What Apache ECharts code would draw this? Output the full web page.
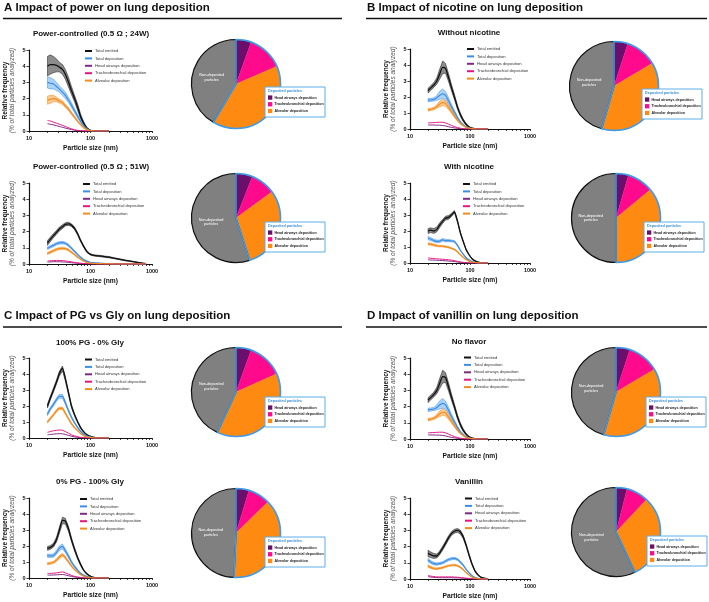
<!DOCTYPE html>
<html>
<head>
<meta charset="utf-8">
<script src="https://cdn.jsdelivr.net/npm/echarts@6/dist/echarts.min.js"></script>
<style>
  html, body { margin: 0; background: #fff; }
  #chart { width: 709px; height: 602px; }
</style>
</head>
<body>
<div id="chart"></div>
<script>
// particle sizes (nm) where the curves were read
const sizes = [20, 22, 25, 28, 31, 35, 39, 44, 49, 55, 62, 69, 77, 86, 97, 108, 121, 135, 150, 170, 200]
const sizesWide = [20, 22, 25, 28, 31, 35, 39, 44, 49, 55, 62, 69, 77, 86, 97, 108, 121, 135, 150, 170, 200, 240, 290, 350, 420, 500, 600, 700, 800]

const xTicks = [10, 20, 30, 40, 50, 60, 70, 80, 90, 100, 200, 300, 400, 500, 600, 700, 800, 900, 1000]
const xLabels = [10, 100, 1000]

const seriesNames = ['Total emitted', 'Total deposition', 'Head airways deposition', 'Tracheobronchial deposition', 'Alveolar deposition']
const pieNames = ['Head airways deposition', 'Tracheobronchial deposition', 'Alveolar deposition', 'Non-deposited particles']

// A1 power 24W
const a1Emitted = [4.0, 4.1, 4.1, 4.05, 3.95, 3.8, 3.5, 3.0, 2.5, 2.0, 1.45, 0.9, 0.5, 0.2, 0.06, 0.01, 0, 0, 0, 0, 0]
const a1EmittedSem = [0.6, 0.6, 0.5, 0.4, 0.3, 0.3, 0.3, 0.3, 0.25, 0.2, 0.2, 0.15, 0.1, 0.05, 0.02, 0, 0, 0, 0, 0, 0]
const a1Deposition = [3.0, 2.95, 2.9, 2.75, 2.6, 2.4, 2.2, 1.9, 1.6, 1.25, 0.9, 0.6, 0.35, 0.15, 0.05, 0.01, 0, 0, 0, 0, 0]
const a1DepositionSem = [0.35, 0.35, 0.3, 0.25, 0.2, 0.2, 0.2, 0.15, 0.15, 0.12, 0.1, 0.08, 0.05, 0.03, 0.01, 0, 0, 0, 0, 0, 0]
const a1Head = [0.45, 0.42, 0.38, 0.33, 0.28, 0.23, 0.18, 0.13, 0.09, 0.05, 0.02, 0.01, 0, 0, 0, 0, 0, 0, 0, 0, 0]
const a1Tracheo = [0.65, 0.62, 0.55, 0.48, 0.42, 0.35, 0.28, 0.2, 0.14, 0.08, 0.04, 0.02, 0.01, 0, 0, 0, 0, 0, 0, 0, 0]
const a1Alveolar = [1.9, 1.95, 2.0, 1.95, 1.85, 1.75, 1.55, 1.35, 1.1, 0.85, 0.6, 0.4, 0.22, 0.1, 0.03, 0.01, 0, 0, 0, 0, 0]
const a1AlveolarSem = [0.25, 0.25, 0.2, 0.15, 0.12, 0.12, 0.1, 0.1, 0.08, 0.07, 0.05, 0.04, 0.03, 0.02, 0.01, 0, 0, 0, 0, 0, 0]
const a1Pie = [5.5, 13, 40, 41.5]

// A2 power 51W
const a2Emitted = [1.3, 1.5, 1.75, 1.95, 2.15, 2.3, 2.45, 2.48, 2.4, 2.2, 1.85, 1.45, 1.1, 0.8, 0.62, 0.55, 0.52, 0.5, 0.48, 0.45, 0.42, 0.36, 0.3, 0.24, 0.19, 0.14, 0.09, 0.05, 0.02]
const a2EmittedSem = [0.15, 0.14, 0.13, 0.12, 0.12, 0.12, 0.1, 0.1, 0.08, 0.08, 0.07, 0.06, 0.05, 0.05, 0.04, 0.04, 0.04, 0.04, 0.04, 0.04, 0.04, 0.03, 0.03, 0.03, 0.02, 0.02, 0.02, 0.01, 0.01]
const a2Deposition = [0.97, 1.05, 1.15, 1.25, 1.3, 1.32, 1.28, 1.15, 0.98, 0.78, 0.58, 0.42, 0.28, 0.18, 0.11, 0.08, 0.06, 0.05, 0.04, 0.03, 0.03, 0.02, 0.01, 0.01, 0, 0, 0, 0, 0]
const a2DepositionSem = [0.08, 0.08, 0.08, 0.08, 0.08, 0.08, 0.07, 0.07, 0.06, 0.05, 0.04, 0.03, 0.02, 0.02, 0.01, 0.01, 0.01, 0.01, 0.01, 0.01, 0, 0, 0, 0, 0, 0, 0, 0, 0]
const a2Head = [0.12, 0.13, 0.14, 0.14, 0.14, 0.13, 0.12, 0.1, 0.08, 0.06, 0.04, 0.03, 0.02, 0.01, 0, 0, 0, 0, 0, 0, 0, 0, 0, 0, 0, 0, 0, 0, 0]
const a2Tracheo = [0.18, 0.2, 0.21, 0.22, 0.22, 0.21, 0.19, 0.16, 0.13, 0.1, 0.07, 0.05, 0.03, 0.02, 0.01, 0, 0, 0, 0, 0, 0, 0, 0, 0, 0, 0, 0, 0, 0]
const a2Alveolar = [0.65, 0.72, 0.82, 0.9, 0.95, 0.97, 0.95, 0.86, 0.73, 0.58, 0.42, 0.3, 0.19, 0.11, 0.06, 0.04, 0.03, 0.02, 0.02, 0.01, 0.01, 0, 0, 0, 0, 0, 0, 0, 0]
const a2AlveolarSem = [0.07, 0.07, 0.07, 0.07, 0.07, 0.07, 0.06, 0.06, 0.05, 0.04, 0.03, 0.02, 0.02, 0.01, 0.01, 0, 0, 0, 0, 0, 0, 0, 0, 0, 0, 0, 0, 0, 0]
const a2Pie = [6, 9, 30, 55]

// B1 without nicotine (same control as D1 no flavor)
const b1Emitted = [2.4, 2.55, 2.75, 3.0, 3.4, 3.85, 3.8, 3.2, 2.6, 2.0, 1.35, 0.9, 0.55, 0.3, 0.13, 0.05, 0.02, 0, 0, 0, 0]
const b1EmittedSem = [0.15, 0.15, 0.15, 0.2, 0.3, 0.4, 0.3, 0.25, 0.2, 0.15, 0.12, 0.1, 0.08, 0.05, 0.03, 0.02, 0.01, 0, 0, 0, 0]
const b1Deposition = [1.8, 1.82, 1.85, 1.95, 2.1, 2.2, 2.1, 1.75, 1.4, 1.05, 0.7, 0.45, 0.27, 0.14, 0.06, 0.02, 0, 0, 0, 0, 0]
const b1DepositionSem = [0.1, 0.1, 0.1, 0.15, 0.25, 0.3, 0.25, 0.2, 0.15, 0.12, 0.08, 0.05, 0.04, 0.02, 0.01, 0, 0, 0, 0, 0, 0]
const b1Head = [0.25, 0.25, 0.25, 0.24, 0.24, 0.22, 0.19, 0.14, 0.1, 0.07, 0.04, 0.02, 0.01, 0, 0, 0, 0, 0, 0, 0, 0]
const b1Tracheo = [0.38, 0.39, 0.4, 0.41, 0.42, 0.42, 0.38, 0.3, 0.22, 0.15, 0.09, 0.05, 0.02, 0.01, 0, 0, 0, 0, 0, 0, 0]
const b1Alveolar = [1.2, 1.22, 1.28, 1.4, 1.55, 1.65, 1.6, 1.35, 1.1, 0.82, 0.55, 0.36, 0.22, 0.11, 0.05, 0.02, 0, 0, 0, 0, 0]
const b1AlveolarSem = [0.08, 0.08, 0.08, 0.1, 0.18, 0.2, 0.18, 0.15, 0.12, 0.1, 0.07, 0.05, 0.03, 0.02, 0.01, 0, 0, 0, 0, 0, 0]
const b1Pie = [5, 11.5, 38, 45.5]

// B2 with nicotine
const b2Emitted = [2.0, 2.05, 2.0, 2.1, 2.35, 2.6, 2.8, 2.85, 3.0, 3.2, 2.6, 1.9, 1.35, 0.85, 0.5, 0.27, 0.13, 0.06, 0.03, 0.01, 0]
const b2EmittedSem = [0.15, 0.15, 0.15, 0.15, 0.15, 0.12, 0.12, 0.12, 0.1, 0.08, 0.06, 0.05, 0.04, 0.03, 0.02, 0.01, 0.01, 0, 0, 0, 0]
const b2Deposition = [1.55, 1.5, 1.4, 1.35, 1.35, 1.45, 1.4, 1.4, 1.38, 1.35, 1.1, 0.8, 0.55, 0.33, 0.18, 0.09, 0.04, 0.02, 0.01, 0, 0]
const b2DepositionSem = [0.1, 0.1, 0.08, 0.08, 0.08, 0.08, 0.08, 0.07, 0.06, 0.05, 0.04, 0.03, 0.02, 0.02, 0.01, 0, 0, 0, 0, 0, 0]
const b2Head = [0.2, 0.19, 0.18, 0.17, 0.16, 0.15, 0.14, 0.12, 0.11, 0.09, 0.06, 0.04, 0.02, 0.01, 0, 0, 0, 0, 0, 0, 0]
const b2Tracheo = [0.32, 0.3, 0.28, 0.26, 0.25, 0.23, 0.22, 0.2, 0.18, 0.15, 0.1, 0.07, 0.04, 0.02, 0.01, 0, 0, 0, 0, 0, 0]
const b2Alveolar = [1.2, 1.18, 1.12, 1.08, 1.06, 1.05, 1.02, 0.98, 0.92, 0.85, 0.7, 0.52, 0.36, 0.22, 0.12, 0.06, 0.03, 0.01, 0, 0, 0]
const b2AlveolarSem = [0.07, 0.07, 0.06, 0.06, 0.05, 0.05, 0.05, 0.05, 0.04, 0.04, 0.03, 0.03, 0.02, 0.01, 0.01, 0, 0, 0, 0, 0, 0]
const b2Pie = [4.5, 9.5, 36, 50]

// C1 100% PG
const c1Emitted = [2.0, 2.45, 3.0, 3.5, 4.0, 4.35, 3.7, 2.8, 2.0, 1.45, 1.0, 0.65, 0.4, 0.22, 0.12, 0.06, 0.03, 0.01, 0, 0, 0]
const c1EmittedSem = [0.12, 0.12, 0.12, 0.12, 0.15, 0.15, 0.12, 0.1, 0.08, 0.06, 0.05, 0.04, 0.03, 0.02, 0.01, 0.01, 0, 0, 0, 0, 0]
const c1Deposition = [1.5, 1.8, 2.1, 2.4, 2.6, 2.6, 2.2, 1.7, 1.3, 0.95, 0.65, 0.42, 0.25, 0.14, 0.07, 0.03, 0.01, 0, 0, 0, 0]
const c1DepositionSem = [0.1, 0.1, 0.1, 0.1, 0.12, 0.12, 0.1, 0.08, 0.06, 0.05, 0.04, 0.03, 0.02, 0.01, 0.01, 0, 0, 0, 0, 0, 0]
const c1Head = [0.2, 0.22, 0.24, 0.26, 0.27, 0.26, 0.22, 0.16, 0.11, 0.07, 0.04, 0.02, 0.01, 0, 0, 0, 0, 0, 0, 0, 0]
const c1Tracheo = [0.35, 0.4, 0.45, 0.48, 0.5, 0.48, 0.4, 0.3, 0.2, 0.13, 0.08, 0.04, 0.02, 0.01, 0, 0, 0, 0, 0, 0, 0]
const c1Alveolar = [1.0, 1.2, 1.45, 1.7, 1.85, 1.85, 1.55, 1.2, 0.9, 0.65, 0.45, 0.28, 0.16, 0.08, 0.04, 0.02, 0, 0, 0, 0, 0]
const c1AlveolarSem = [0.07, 0.07, 0.07, 0.08, 0.08, 0.08, 0.07, 0.06, 0.05, 0.04, 0.03, 0.02, 0.01, 0.01, 0, 0, 0, 0, 0, 0, 0]
const c1Pie = [5.5, 12.8, 38.6, 43.1]

// C2 100% Gly
const c2Emitted = [1.85, 1.9, 2.05, 2.4, 2.95, 3.6, 3.55, 3.05, 2.4, 1.8, 1.25, 0.85, 0.5, 0.28, 0.13, 0.05, 0.02, 0, 0, 0, 0]
const c2EmittedSem = [0.12, 0.12, 0.12, 0.15, 0.18, 0.2, 0.18, 0.15, 0.12, 0.1, 0.08, 0.06, 0.04, 0.03, 0.02, 0.01, 0, 0, 0, 0, 0]
const c2Deposition = [1.4, 1.38, 1.4, 1.6, 1.85, 1.98, 1.7, 1.35, 1.0, 0.72, 0.48, 0.3, 0.18, 0.1, 0.04, 0.02, 0, 0, 0, 0, 0]
const c2DepositionSem = [0.1, 0.1, 0.1, 0.12, 0.15, 0.15, 0.12, 0.1, 0.08, 0.06, 0.04, 0.03, 0.02, 0.01, 0.01, 0, 0, 0, 0, 0, 0]
const c2Head = [0.18, 0.18, 0.19, 0.2, 0.21, 0.22, 0.19, 0.14, 0.1, 0.06, 0.04, 0.02, 0.01, 0, 0, 0, 0, 0, 0, 0, 0]
const c2Tracheo = [0.28, 0.29, 0.3, 0.32, 0.35, 0.38, 0.32, 0.24, 0.16, 0.1, 0.06, 0.03, 0.01, 0, 0, 0, 0, 0, 0, 0, 0]
const c2Alveolar = [0.9, 0.92, 0.97, 1.12, 1.3, 1.45, 1.28, 1.0, 0.75, 0.52, 0.35, 0.22, 0.13, 0.06, 0.03, 0.01, 0, 0, 0, 0, 0]
const c2AlveolarSem = [0.07, 0.07, 0.07, 0.08, 0.1, 0.1, 0.08, 0.07, 0.05, 0.04, 0.03, 0.02, 0.01, 0.01, 0, 0, 0, 0, 0, 0, 0]
const c2Pie = [4.7, 8, 38, 49.3]

// D2 vanillin
const d2Emitted = [1.58, 1.5, 1.42, 1.42, 1.6, 1.9, 2.2, 2.55, 2.8, 2.95, 3.0, 2.9, 2.6, 2.1, 1.45, 0.92, 0.5, 0.26, 0.12, 0.05, 0.01]
const d2EmittedSem = [0.2, 0.18, 0.15, 0.12, 0.12, 0.12, 0.12, 0.12, 0.12, 0.12, 0.12, 0.12, 0.1, 0.08, 0.07, 0.05, 0.03, 0.02, 0.01, 0.01, 0]
const d2Deposition = [1.17, 1.05, 0.95, 0.92, 0.95, 1.0, 1.1, 1.2, 1.25, 1.27, 1.2, 1.05, 0.85, 0.6, 0.38, 0.2, 0.09, 0.04, 0.01, 0, 0]
const d2DepositionSem = [0.1, 0.09, 0.08, 0.07, 0.07, 0.07, 0.07, 0.07, 0.07, 0.07, 0.06, 0.05, 0.04, 0.03, 0.02, 0.01, 0.01, 0, 0, 0, 0]
const d2Head = [0.15, 0.12, 0.1, 0.09, 0.08, 0.08, 0.08, 0.08, 0.08, 0.07, 0.07, 0.06, 0.05, 0.03, 0.02, 0.01, 0, 0, 0, 0, 0]
const d2Tracheo = [0.22, 0.18, 0.15, 0.13, 0.13, 0.13, 0.13, 0.13, 0.13, 0.12, 0.11, 0.09, 0.07, 0.05, 0.03, 0.01, 0, 0, 0, 0, 0]
const d2Alveolar = [0.8, 0.72, 0.65, 0.63, 0.66, 0.7, 0.76, 0.82, 0.85, 0.86, 0.82, 0.72, 0.58, 0.4, 0.24, 0.12, 0.05, 0.02, 0, 0, 0]
const d2AlveolarSem = [0.08, 0.07, 0.06, 0.06, 0.05, 0.05, 0.05, 0.05, 0.05, 0.05, 0.05, 0.04, 0.03, 0.02, 0.02, 0.01, 0, 0, 0, 0, 0]
const d2Pie = [4, 8, 31, 57]

const FONT = '"Liberation Sans", Arial, Helvetica, sans-serif'
const lineColors = ['#111111', '#3a8ee6', '#7d2a87', '#e8157f', '#f28c1c']
const bandColors = ['#8c8c8c', '#acd2f6', null, null, '#fbc88e']
const lineWidths = [1.3, 1.2, 1, 1, 1.2]
const pieColors = ['#6b0f6c', '#ff0a8c', '#ff8a12', '#808080']

const panelTitles = [
  { text: 'A Impact of power on lung deposition', x: 4, y: 8, rule: [3, 342, 18.5] },
  { text: 'B Impact of nicotine on lung deposition', x: 367, y: 8, rule: [366, 707, 18.5] },
  { text: 'C Impact of PG vs Gly on lung deposition', x: 4, y: 316, rule: [3, 342, 327] },
  { text: 'D Impact of vanillin on lung deposition', x: 367, y: 316, rule: [366, 707, 327] }
]

const charts = [
  { title: 'Power-controlled (0.5 Ω ; 24W)', titleAt: [91, 34], grid: [29, 50, 123, 81], legendAt: [85, 48.5], pieAt: [236, 84], boxAt: [265, 87],
    sizes: sizes, emitted: a1Emitted, emittedSem: a1EmittedSem, deposition: a1Deposition, depositionSem: a1DepositionSem, head: a1Head, tracheo: a1Tracheo, alveolar: a1Alveolar, alveolarSem: a1AlveolarSem, pie: a1Pie },
  { title: 'Power-controlled (0.5 Ω ; 51W)', titleAt: [91, 167], grid: [29, 183, 123, 81], legendAt: [83, 181.5], pieAt: [236, 218], boxAt: [265, 222],
    sizes: sizesWide, emitted: a2Emitted, emittedSem: a2EmittedSem, deposition: a2Deposition, depositionSem: a2DepositionSem, head: a2Head, tracheo: a2Tracheo, alveolar: a2Alveolar, alveolarSem: a2AlveolarSem, pie: a2Pie },
  { title: 'Without nicotine', titleAt: [469, 33], grid: [410, 49, 120, 80], legendAt: [467, 46.5], pieAt: [614, 86], boxAt: [642, 89],
    sizes: sizes, emitted: b1Emitted, emittedSem: b1EmittedSem, deposition: b1Deposition, depositionSem: b1DepositionSem, head: b1Head, tracheo: b1Tracheo, alveolar: b1Alveolar, alveolarSem: b1AlveolarSem, pie: b1Pie },
  { title: 'With nicotine', titleAt: [469, 167], grid: [410, 183, 120, 80], legendAt: [463, 181.5], pieAt: [616, 218], boxAt: [644, 222],
    sizes: sizes, emitted: b2Emitted, emittedSem: b2EmittedSem, deposition: b2Deposition, depositionSem: b2DepositionSem, head: b2Head, tracheo: b2Tracheo, alveolar: b2Alveolar, alveolarSem: b2AlveolarSem, pie: b2Pie },
  { title: '100% PG - 0% Gly', titleAt: [90, 343], grid: [29, 358, 123, 80], legendAt: [85, 357], pieAt: [236, 392], boxAt: [265, 397],
    sizes: sizes, emitted: c1Emitted, emittedSem: c1EmittedSem, deposition: c1Deposition, depositionSem: c1DepositionSem, head: c1Head, tracheo: c1Tracheo, alveolar: c1Alveolar, alveolarSem: c1AlveolarSem, pie: c1Pie },
  { title: '0% PG - 100% Gly', titleAt: [90, 482], grid: [29, 498, 123, 80], legendAt: [80, 496.5], pieAt: [236, 533], boxAt: [265, 537],
    sizes: sizes, emitted: c2Emitted, emittedSem: c2EmittedSem, deposition: c2Deposition, depositionSem: c2DepositionSem, head: c2Head, tracheo: c2Tracheo, alveolar: c2Alveolar, alveolarSem: c2AlveolarSem, pie: c2Pie },
  { title: 'No flavor', titleAt: [469, 342], grid: [410, 358, 120, 81], legendAt: [464, 355], pieAt: [616, 392], boxAt: [646, 397],
    sizes: sizes, emitted: b1Emitted, emittedSem: b1EmittedSem, deposition: b1Deposition, depositionSem: b1DepositionSem, head: b1Head, tracheo: b1Tracheo, alveolar: b1Alveolar, alveolarSem: b1AlveolarSem, pie: b1Pie },
  { title: 'Vanillin', titleAt: [469, 482], grid: [410, 498, 120, 81], legendAt: [465, 496], pieAt: [616, 532], boxAt: [647, 536],
    sizes: sizes, emitted: d2Emitted, emittedSem: d2EmittedSem, deposition: d2Deposition, depositionSem: d2DepositionSem, head: d2Head, tracheo: d2Tracheo, alveolar: d2Alveolar, alveolarSem: d2AlveolarSem, pie: d2Pie }
]

const chart = echarts.init(document.getElementById('chart'), null, { renderer: 'canvas' })

// shaded mean +/- sem area, drawn as one polygon through the axis scales
function bandSeries(index, xs, mean, sem, fill, stroke) {
  return {
    type: 'custom',
    name: 'band',
    xAxisIndex: index,
    yAxisIndex: index,
    silent: true,
    z: 1,
    data: xs.map((x, k) => [x, Math.max(0, mean[k] - sem[k]), mean[k] + sem[k]]),
    encode: { x: 0, y: [1, 2] },
    renderItem(params, api) {
      if (params.dataIndex !== 0) return null
      const upper = []
      const lower = []
      for (let k = 0; k < xs.length; k++) {
        upper.push(api.coord([xs[k], mean[k] + sem[k]]))
        lower.push(api.coord([xs[k], Math.max(0, mean[k] - sem[k])]))
      }
      return {
        type: 'polygon',
        shape: { points: upper.concat(lower.reverse()) },
        style: { fill: fill, stroke: stroke, lineWidth: 0.5 }
      }
    }
  }
}

function textEl(x, y, text, font, fill, align) {
  return {
    type: 'text', x: x, y: y, z: 100,
    style: { text: text, font: font, fill: fill, align: align || 'left', textAlign: align || 'left', verticalAlign: 'middle', textVerticalAlign: 'middle' }
  }
}

const grids = []
const xAxes = []
const yAxes = []
const legends = []
const series = []
const graphics = []

panelTitles.forEach(p => {
  graphics.push(textEl(p.x, p.y, p.text, 'bold 11.5px ' + FONT, '#111'))
  graphics.push({
    type: 'line', z: 100,
    shape: { x1: p.rule[0], y1: p.rule[2], x2: p.rule[1], y2: p.rule[2] },
    style: { stroke: '#111', lineWidth: 1.7 }
  })
})

charts.forEach((c, i) => {
  grids.push({ left: c.grid[0], top: c.grid[1], width: c.grid[2], height: c.grid[3], containLabel: false })

  xAxes.push({
    gridIndex: i,
    type: 'log',
    logBase: 10,
    min: 10,
    max: 1000,
    name: 'Particle size (nm)',
    nameLocation: 'middle',
    nameGap: 13.5,
    nameTextStyle: { fontFamily: FONT, fontWeight: 'bold', fontSize: 6.7, color: '#111' },
    axisLine: { lineStyle: { color: '#111', width: 1.2 } },
    axisTick: { show: true, customValues: xTicks, length: 2, lineStyle: { color: '#111', width: 0.8 } },
    axisLabel: {
      customValues: xLabels, margin: 4, fontFamily: FONT, fontWeight: 'bold', fontSize: 5.5, color: '#111',
      formatter: v => String(Math.round(v))
    },
    splitLine: { show: false },
    minorTick: { show: false }
  })

  yAxes.push({
    gridIndex: i,
    type: 'value',
    min: 0,
    max: 5,
    interval: 1,
    name: '{a|Relative frequency}\n{b|(% of total particles analyzed)}',
    nameLocation: 'middle',
    nameGap: 13,
    nameTextStyle: {
      rich: {
        a: { fontFamily: FONT, fontWeight: 'bold', fontSize: 6.5, color: '#111', lineHeight: 7 },
        b: { fontFamily: FONT, fontStyle: 'italic', fontSize: 6.5, color: '#555', lineHeight: 7 }
      }
    },
    axisLine: { show: true, lineStyle: { color: '#111', width: 1.2 } },
    axisTick: { show: true, length: 2.5, lineStyle: { color: '#111', width: 0.8 } },
    axisLabel: { margin: 3.5, fontFamily: FONT, fontWeight: 'bold', fontSize: 5.5, color: '#111' },
    splitLine: { show: false }
  })

  legends.push({
    orient: 'vertical',
    left: c.legendAt[0],
    top: c.legendAt[1],
    padding: 0,
    itemWidth: 7,
    itemHeight: 2,
    itemGap: 2.4,
    icon: 'rect',
    selectedMode: false,
    data: seriesNames,
    textStyle: { fontFamily: FONT, fontSize: 4.1, color: '#333', lineHeight: 5, padding: [0, 0, 0, -2] }
  })

  const values = [c.emitted, c.deposition, c.head, c.tracheo, c.alveolar]
  series.push(bandSeries(i, c.sizes, c.emitted, c.emittedSem, bandColors[0], lineColors[0]))
  series.push(bandSeries(i, c.sizes, c.deposition, c.depositionSem, bandColors[1], lineColors[1]))
  series.push(bandSeries(i, c.sizes, c.alveolar, c.alveolarSem, bandColors[4], lineColors[4]))
  values.forEach((vals, s) => {
    series.push({
      type: 'line',
      name: seriesNames[s],
      xAxisIndex: i,
      yAxisIndex: i,
      data: c.sizes.map((x, k) => [x, vals[k]]),
      symbol: 'none',
      smooth: 0.2,
      silent: true,
      z: 2 + s * 0.01,
      color: lineColors[s],
      itemStyle: { color: lineColors[s] },
      lineStyle: { color: lineColors[s], width: lineWidths[s] }
    })
  })

  // pie of deposited fractions
  series.push({
    type: 'pie',
    name: 'pie' + i,
    center: c.pieAt,
    radius: 44.5,
    startAngle: 90,
    clockwise: true,
    silent: true,
    avoidLabelOverlap: false,
    labelLine: { show: false },
    data: pieNames.map((n, k) => ({
      name: n,
      value: c.pie[k],
      itemStyle: { color: pieColors[k], borderColor: k === 3 ? '#111' : pieColors[k], borderWidth: k === 3 ? 1.2 : 0.3 },
      label: k === 3
        ? { show: true, position: 'inside', formatter: 'Non-deposited\nparticles', color: '#fff', fontFamily: FONT, fontSize: 3.8, lineHeight: 4.6, align: 'left' }
        : { show: false }
    }))
  })
  // blue outline around the deposited part
  series.push({
    type: 'pie',
    name: 'outline' + i,
    center: c.pieAt,
    radius: 44.5,
    startAngle: 90,
    clockwise: true,
    silent: true,
    z: 3,
    label: { show: false },
    labelLine: { show: false },
    data: [
      { name: 'deposited', value: c.pie[0] + c.pie[1] + c.pie[2], itemStyle: { color: 'rgba(0,0,0,0)', borderColor: '#3d9be9', borderWidth: 1.6 } },
      { name: 'other', value: c.pie[3], itemStyle: { color: 'rgba(0,0,0,0)', borderWidth: 0 } }
    ]
  })

  graphics.push(textEl(c.titleAt[0], c.titleAt[1], c.title, 'bold 8px ' + FONT, '#111', 'center'))

  // legend box of the pie
  const bx = c.boxAt[0]
  const by = c.boxAt[1]
  graphics.push({
    type: 'rect', z: 100,
    shape: { x: bx, y: by, width: 60, height: 30 },
    style: { fill: '#fff', stroke: '#5aaee8', lineWidth: 1 }
  })
  graphics.push(textEl(bx + 3, by + 4, 'Deposited particles', 'bold 3.7px ' + FONT, '#3b8fd6'))
  for (let k = 0; k < 3; k++) {
    graphics.push({
      type: 'rect', z: 100,
      shape: { x: bx + 3, y: by + 8.4 + k * 6.7, width: 4.3, height: 4.3 },
      style: { fill: pieColors[k] }
    })
    graphics.push(textEl(bx + 9.5, by + 10.6 + k * 6.7, pieNames[k], 'bold 3.6px ' + FONT, '#222'))
  }
})

chart.setOption({
  animation: false,
  backgroundColor: '#fff',
  grid: grids,
  xAxis: xAxes,
  yAxis: yAxes,
  legend: legends,
  series: series,
  graphic: { elements: graphics }
})
</script>
</body>
</html>
